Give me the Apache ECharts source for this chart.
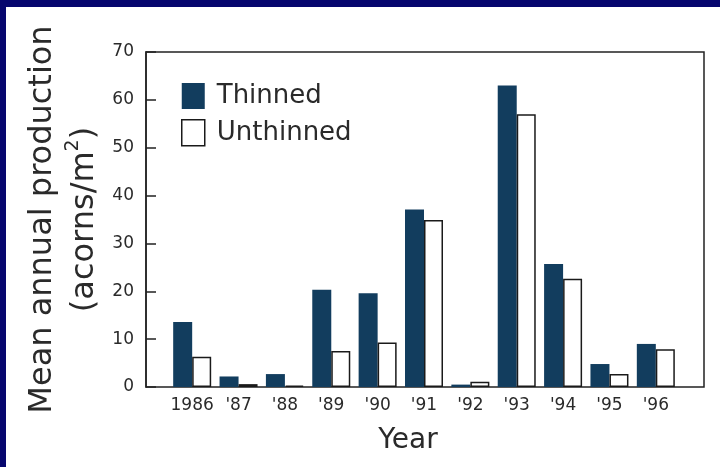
<!DOCTYPE html>
<html>
<head>
<meta charset="utf-8">
<script src="https://cdn.jsdelivr.net/npm/echarts@6/dist/echarts.min.js"></script>
<style>
  html, body { margin: 0; padding: 0; width: 720px; height: 467px; background: #06066e; overflow: hidden; }
  #chart { position: absolute; left: 6px; top: 7px; width: 714px; height: 460px; background: #ffffff; }
</style>
</head>
<body>
<div id="chart"></div>
<script>
const years = ['1986', "'87", "'88", "'89", "'90", "'91", "'92", "'93", "'94", "'95", "'96"];
const thinned = [13.6, 2.2, 2.7, 20.3, 19.6, 37.1, 0.5, 63.0, 25.7, 4.8, 9.0];
const unthinned = [6.3, 0.6, 0.3, 7.5, 9.3, 34.9, 1.1, 57.0, 22.6, 2.7, 7.9];
const seriesNames = ['Thinned', 'Unthinned'];

const FONT = 'DejaVu Sans';
const TXT = '#2a2a2a';
const chart = echarts.init(document.getElementById('chart'));
chart.setOption({
  animation: false,
  backgroundColor: '#ffffff',
  textStyle: { fontFamily: FONT, color: TXT },
  grid: [
    { left: 140, right: 16, top: 45, bottom: 80, show: true, borderColor: '#222', borderWidth: 1.5, backgroundColor: 'transparent' },
    { left: 163, right: 41, top: 45, bottom: 80 }
  ],
  legend: {
    orient: 'vertical',
    left: 170, top: 71,
    icon: 'rect',
    itemWidth: 23, itemHeight: 26, itemGap: 10,
    textStyle: { fontFamily: FONT, fontSize: 26, color: TXT, padding: [0, 0, 0, 7] },
    data: [
      { name: seriesNames[0], itemStyle: { color: '#123d5e', borderWidth: 0 } },
      { name: seriesNames[1], itemStyle: { color: '#ffffff', borderColor: '#1a1a1a', borderWidth: 1.5 } }
    ]
  },
  xAxis: [
    { type: 'category', gridIndex: 0, data: years, show: false },
    {
      type: 'category', gridIndex: 1, data: years,
      axisLine: { show: false }, axisTick: { show: false },
      axisLabel: { interval: 0, fontFamily: FONT, fontSize: 17, color: TXT, margin: 10 },
      name: 'Year', nameLocation: 'middle', nameGap: 40,
      nameTextStyle: { fontFamily: FONT, fontSize: 28, color: TXT, padding: [0, 32, 0, 0] }
    }
  ],
  yAxis: [
    {
      type: 'value', gridIndex: 0, min: 0, max: 70, interval: 10,
      axisLine: { show: true, lineStyle: { color: '#222', width: 1.5 } },
      axisTick: { show: true, inside: true, length: 10, lineStyle: { color: '#222', width: 1.5 } },
      splitLine: { show: false },
      axisLabel: { fontFamily: FONT, fontSize: 17, color: TXT, margin: 12 },
      name: '{a|Mean annual production}\n{a|(acorns/m}{s|2}{a|)}',
      nameLocation: 'middle', nameRotate: 90, nameGap: 40,
      nameTextStyle: {
        rich: {
          a: { fontFamily: FONT, fontSize: 32, color: TXT, lineHeight: 42 },
          s: { fontFamily: FONT, fontSize: 19, color: TXT, lineHeight: 42, verticalAlign: 'top', padding: [0, 0, 14, 0] }
        }
      }
    },
    { type: 'value', gridIndex: 1, min: 0, max: 70, interval: 10, show: false, splitLine: { show: false } }
  ],
  series: [
    {
      name: seriesNames[0], type: 'bar', xAxisIndex: 1, yAxisIndex: 1,
      data: thinned, barWidth: 19, barGap: '0%',
      itemStyle: { color: '#123d5e' }
    },
    {
      name: seriesNames[1], type: 'bar', xAxisIndex: 1, yAxisIndex: 1,
      data: unthinned, barWidth: 19, barGap: '0%',
      itemStyle: { color: '#ffffff', borderColor: '#1a1a1a', borderWidth: 1.5 }
    }
  ]
});
</script>
</body>
</html>
